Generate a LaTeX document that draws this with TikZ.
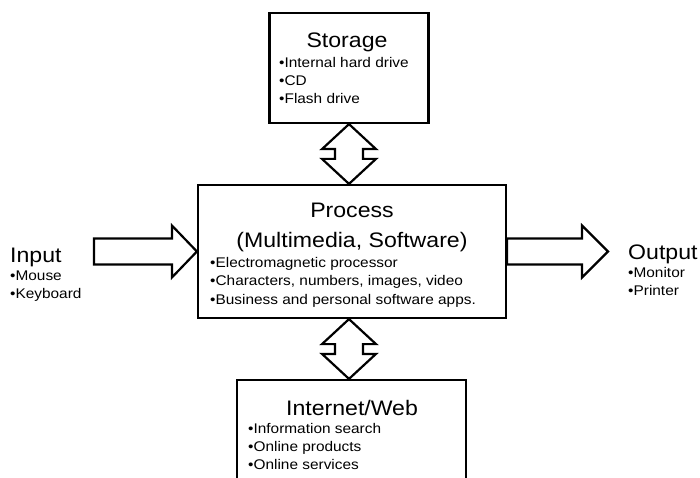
\documentclass[tikz,border=0pt]{standalone}
\usepackage{fontspec}
\setmainfont{Liberation Sans}[FakeStretch=1.1]
\usetikzlibrary{calc}
\tikzset{
  box/.style={draw, line width=2.2pt, rectangle, inner sep=0pt},
  blockarrow/.style={draw, line width=2.2pt, line join=miter},
  title/.style={anchor=base, inner sep=0pt, font=\fontsize{21}{25}\selectfont},
  lefttitle/.style={anchor=base west, inner sep=0pt, font=\fontsize{21}{25}\selectfont},
  item/.style={anchor=base west, inner sep=0pt, font=\fontsize{14}{18}\selectfont},
}
\begin{document}
\begin{tikzpicture}[x=1pt,y=-1pt]
\useasboundingbox (0,0) rectangle (700,478);
\clip (0,0) rectangle (700,478);

% boxes
\node[box, minimum width=159pt, minimum height=110pt] (storage) at (349,68) {};
\node[box, minimum width=308pt, minimum height=133pt] (process) at (352,251.5) {};
\node[box, minimum width=229pt, minimum height=120pt] (internet) at (351.5,440) {};

\coordinate (intail) at (94,251.5);
\coordinate (outtip) at (608,251.5);

% storage <-> process
\coordinate (t1) at (storage.south);
\coordinate (b1) at (storage.south |- process.north);
\draw[blockarrow] (t1) -- ++(27,25) -- ++(-13,0) -- ($(b1)+(14,-25)$) -- ++(13,0) -- (b1)
  -- ++(-27,-25) -- ++(13,0) -- ($(t1)+(-14,25)$) -- ++(-13,0) -- cycle;

% process <-> internet
\coordinate (t2) at (storage.south |- process.south);
\coordinate (b2) at (storage.south |- internet.north);
\draw[blockarrow] (t2) -- ++(27,25) -- ++(-13,0) -- ($(b2)+(14,-25)$) -- ++(13,0) -- (b2)
  -- ++(-27,-25) -- ++(13,0) -- ($(t2)+(-14,25)$) -- ++(-13,0) -- cycle;

% input -> process
\draw[blockarrow] (process.west) -- ++(-25,-26) -- ++(0,13) -- ($(intail)+(0,-13)$)
  -- ($(intail)+(0,13)$) -- ($(process.west)+(-25,13)$) -- ++(0,13) -- cycle;

% process -> output
\draw[blockarrow] (outtip) -- ++(-26,-26) -- ++(0,13) -- ($(process.east)+(0,-13)$)
  -- ($(process.east)+(0,13)$) -- ($(outtip)+(-26,13)$) -- ++(0,13) -- cycle;

% texts
\node[title] (st) at (347,48) {Storage};
\node[item] (s1) at (279,68) {•Internal hard drive};
\node[item] (s2) at (279,86) {•CD};
\node[item] (s3) at (279,104) {•Flash drive};

\node[title] (pt1) at (352,218) {Process};
\node[title] (pt2) at (352,247) {(Multimedia, Software)};
\node[item] (p1) at (210,267) {•Electromagnetic processor};
\node[item] (p2) at (210,285.5) {•Characters, numbers, images, video};
\node[item] (p3) at (210,304) {•Business and personal software apps.};

\node[title] (it) at (352,415) {Internet/Web};
\node[item] (i1) at (248,433) {•Information search};
\node[item] (i2) at (248,451) {•Online products};
\node[item] (i3) at (248,469) {•Online services};

\node[lefttitle] (int) at (10,262) {Input};
\node[item] (in1) at (10,280) {•Mouse};
\node[item] (in2) at (10,298) {•Keyboard};

\node[lefttitle] (outt) at (628,259) {Output};
\node[item] (o1) at (628,277) {•Monitor};
\node[item] (o2) at (628,295) {•Printer};
\end{tikzpicture}
\end{document}
